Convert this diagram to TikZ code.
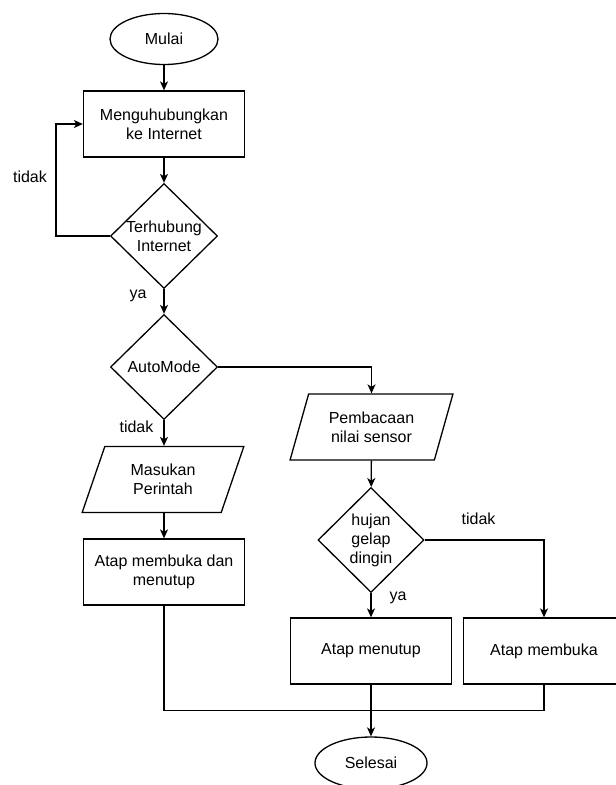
\documentclass[tikz,border=0pt]{standalone}
\usepackage{fontspec}
\setmainfont{Liberation Sans}
\usetikzlibrary{shapes.geometric,arrows.meta}
\begin{document}
\begin{tikzpicture}[x=1pt,y=-1pt,
  font=\fontsize{16}{19}\selectfont,
  every node/.style={text=black},
  base/.style={draw=black,line width=1.3pt,align=center,inner sep=0pt},
  term/.style={base,ellipse,minimum width=108pt,minimum height=51pt},
  proc/.style={base,rectangle,minimum width=161pt,minimum height=66pt},
  dec/.style={base,diamond,minimum width=107pt,minimum height=105pt,inner xsep=-10pt},
  io/.style={base,trapezium,trapezium left angle=67.7,trapezium right angle=112.3,
             trapezium stretches=true,minimum width=163pt,minimum height=66pt},
  arr/.style={line width=1.3pt,-{Stealth[length=9pt,width=8pt,inset=2.5pt]}},
  ln/.style={line width=1.3pt},
  lbl/.style={inner sep=0pt}]
\useasboundingbox (0,0) rectangle (616,785);
\fill[white] (0,0) rectangle (616,785);

\node[term] (mulai) at (164,39) {Mulai};
\node[proc] (conn) at (164,124) {Menguhubungkan\\ke Internet};
\node[dec] (cek) at (164,236) {Terhubung\\Internet};
\node[dec] (auto) at (164,367) {AutoMode};
\node[io] (masuk) at (163,479.5) {Masukan\\Perintah};
\node[proc] (manual) at (164,572) {Atap membuka dan\\menutup};
\node[io] (baca) at (371.5,427) {Pembacaan\\nilai sensor};
\node[dec,minimum width=106pt] (cuaca) at (371,540) {hujan\\gelap\\dingin};
\node[proc] (tutup) at (371,651) {Atap menutup};
\node[proc] (buka) at (544,651) {Atap membuka};
\node[term,minimum width=112pt,minimum height=52pt] (selesai) at (371,763) {Selesai};
\coordinate (join) at (371,710.5);

\node[lbl] (l1) at (30,177) {tidak};
\node[lbl] (l2) at (138,296) {ya};
\node[lbl] (l3) at (136.5,427) {tidak};
\node[lbl] (l4) at (398,598) {ya};
\node[lbl] (l5) at (478.5,519) {tidak};

\draw[arr] (mulai) -- (conn);
\draw[arr] (conn) -- (cek);
\draw[arr] (cek.west) -- ++(-54,0) |- (conn.west);
\draw[arr] (cek) -- (auto);
\draw[arr] (auto.east) -| (baca.north);
\draw[arr] (auto) -- (masuk.north -| auto.south);
\draw[arr] (masuk.south -| manual.north) -- (manual);
\draw[arr] (baca) -- (cuaca);
\draw[arr] (cuaca) -- (tutup);
\draw[arr] (cuaca.east) -| (buka.north);
\draw[arr] (tutup) -- (selesai);
\draw[ln] (buka.south) |- (join);
\draw[ln] (manual.south) |- (join);
\end{tikzpicture}
\end{document}
